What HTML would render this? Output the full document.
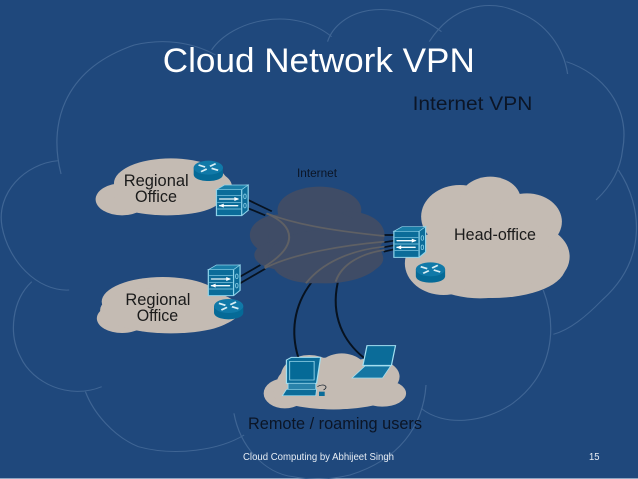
<!DOCTYPE html>
<html><head><meta charset="utf-8"><style>
html,body{margin:0;padding:0;background:#1f487c;width:638px;height:479px;overflow:hidden}
svg{display:block;position:absolute;left:0;top:0}
text{font-family:"Liberation Sans",sans-serif}
</style></head><body>
<svg width="638" height="479" viewBox="0 0 1568 1437" preserveAspectRatio="none" xmlns="http://www.w3.org/2000/svg">
<defs>
<g id="router">
<path d="M-36 0V20C-36 32 -20 40 0 40S36 32 36 20V0Z" fill="#056a97"/>
<ellipse cx="0" cy="0" rx="36" ry="21" fill="#1079a8"/>
<g stroke="#d8eef5" stroke-width="5" fill="none">
<path d="M-24 -8L-8 -2M24 8L8 2M-18 12L-4 4M18 -12L4 -4"/>
</g>
</g>
<g id="fw">
<path d="M12 12L78 0V76L62 92H0V14Z" fill="#0b6c99" stroke="#8fd3ea" stroke-width="3"/>
<path d="M0 14L20 0H78L62 14Z" fill="#1a7ea8" stroke="#8fd3ea" stroke-width="2"/>
<path d="M62 14V92" stroke="#8fd3ea" stroke-width="3"/>
<path d="M2 32H60M2 52H60M2 72H60" stroke="#8fd3ea" stroke-width="2"/>
<path d="M8 42H52M8 62H52" stroke="#eef8fb" stroke-width="4" stroke-linecap="round"/>
<path d="M56 42L44 36V48ZM6 62L18 56V68Z" fill="#fff"/>
<ellipse cx="70" cy="34" rx="3" ry="7" fill="none" stroke="#8fd3ea" stroke-width="2"/>
<ellipse cx="70" cy="62" rx="3" ry="7" fill="none" stroke="#8fd3ea" stroke-width="2"/>
</g>
</defs>

<rect width="1568" height="1437" fill="#1f487c"/>
<rect y="1434" width="1568" height="3" fill="#8fa6c2"/>

<g fill="none" stroke="#3f6594" stroke-width="3">
<path d="M150 522C120 380 150 210 330 135C400 115 470 125 530 165"/>
<path d="M520 150C570 60 720 15 815 110"/>
<path d="M805 125C830 30 960 -20 1085 95"/>
<path d="M1055 125C1110 20 1200 -10 1280 40C1340 70 1385 140 1395 222"/>
<path d="M1392 185C1480 220 1550 320 1530 450C1525 510 1500 560 1465 600"/>
<path d="M1520 510C1580 620 1590 780 1480 900C1440 950 1400 990 1360 1003"/>
<path d="M1335 870C1370 980 1360 1120 1260 1210C1190 1270 1090 1280 1035 1225"/>
<path d="M1047 1155C1040 1280 980 1380 860 1425C810 1440 760 1440 720 1430C650 1420 590 1340 575 1240"/>
<path d="M600 1305C540 1350 430 1370 340 1340C280 1310 230 1240 210 1175"/>
<path d="M250 1160C170 1200 80 1150 50 1070C20 1000 30 900 78 845"/>
<path d="M170 870C90 875 20 780 5 680C-10 580 60 490 145 482"/>
</g>

<g fill="#c4bbb3">
<ellipse cx="300" cy="598" rx="65" ry="48"/>
<ellipse cx="420" cy="550" rx="140" ry="75"/>
<ellipse cx="410" cy="600" rx="130" ry="46"/>
<ellipse cx="500" cy="560" rx="70" ry="50"/>
<ellipse cx="300" cy="955" rx="62" ry="44"/>
<ellipse cx="400" cy="905" rx="150" ry="74"/>
<ellipse cx="420" cy="950" rx="150" ry="50"/>
<ellipse cx="418" cy="930" rx="172" ry="69"/>
<ellipse cx="1130" cy="650" rx="95" ry="95"/>
<ellipse cx="1205" cy="600" rx="75" ry="70"/>
<ellipse cx="1295" cy="665" rx="86" ry="85"/>
<ellipse cx="1300" cy="770" rx="100" ry="95"/>
<ellipse cx="1210" cy="800" rx="180" ry="94"/>
<ellipse cx="1180" cy="780" rx="160" ry="115"/>
<ellipse cx="1090" cy="790" rx="95" ry="95"/>
<ellipse cx="700" cy="1180" rx="52" ry="45"/>
<ellipse cx="760" cy="1130" rx="70" ry="65"/>
<ellipse cx="840" cy="1135" rx="70" ry="75"/>
<ellipse cx="910" cy="1130" rx="72" ry="55"/>
<ellipse cx="940" cy="1180" rx="58" ry="40"/>
<ellipse cx="820" cy="1180" rx="150" ry="48"/>
<ellipse cx="820" cy="1150" rx="140" ry="78"/>
</g>

<g fill="none" stroke="#07121f" stroke-width="5">
<path d="M610 600L668 634M610 625L652 646"/>
<path d="M590 830L640 795M590 850L652 806"/>
<path d="M943 705H968M943 727L968 722M943 742L968 736M943 755L968 748"/>
<path d="M765 848C720 920 715 1000 733 1072"/>
<path d="M830 848C812 950 845 1025 895 1074"/>
</g>

<g fill="#3f4c66">
<ellipse cx="785" cy="630" rx="103" ry="70"/>
<ellipse cx="690" cy="705" rx="76" ry="62"/>
<ellipse cx="860" cy="705" rx="85" ry="70"/>
<ellipse cx="700" cy="765" rx="75" ry="45"/>
<ellipse cx="770" cy="790" rx="100" ry="60"/>
<ellipse cx="870" cy="775" rx="72" ry="48"/>
<ellipse cx="780" cy="710" rx="120" ry="80"/>
<ellipse cx="800" cy="770" rx="140" ry="80"/>
</g>
<g fill="none" stroke="#5f6064" stroke-width="5">
<path d="M655 640C720 670 800 690 945 708"/>
<path d="M655 640C730 680 730 740 650 800"/>
<path d="M650 805C720 760 850 735 945 725"/>
<path d="M752 850C790 790 860 750 945 740"/>
<path d="M825 845C840 790 890 760 945 750"/>
</g>

<use href="#router" x="512" y="503"/>
<use href="#router" x="1058" y="808"/>
<use href="#router" x="562" y="918"/>
<use href="#fw" x="532" y="555"/>
<use href="#fw" x="512" y="795"/>
<use href="#fw" x="968" y="680"/>

<path d="M704 1080L716 1072H788L778 1150H704Z" fill="#0b6c99" stroke="#a3e0f2" stroke-width="3"/>
<rect x="712" y="1084" width="60" height="56" fill="#056a97" stroke="#a3e0f2" stroke-width="2"/>
<path d="M708 1150H776V1168H708Z" fill="#2a82aa" stroke="#a3e0f2" stroke-width="2"/>
<path d="M704 1168H778L776 1187H694Z" fill="#0b6c99" stroke="#a3e0f2" stroke-width="2"/>
<path d="M784 1175H798V1188H784Z" fill="#0b6c99"/>
<path d="M780 1160C795 1148 810 1160 795 1170" fill="none" stroke="#1b2530" stroke-width="2"/>

<path d="M902 1037H972L962 1096H892Z" fill="#0b6c99" stroke="#a3e0f2" stroke-width="3"/>
<path d="M897 1098H960L940 1134H865Z" fill="#1576a3" stroke="#a3e0f2" stroke-width="2"/>
</svg>
<svg width="638" height="479" viewBox="0 0 638 479" xmlns="http://www.w3.org/2000/svg">
<text x="162.8" y="72" font-size="34" fill="#fff" textLength="312" lengthAdjust="spacingAndGlyphs">Cloud Network VPN</text>
<text x="412.6" y="110" font-size="19" fill="#0b1526" textLength="119.7" lengthAdjust="spacingAndGlyphs">Internet VPN</text>
<text x="297" y="177" font-size="11.5" fill="#0b1526" textLength="40" lengthAdjust="spacingAndGlyphs">Internet</text>
<text x="123.7" y="186" font-size="16.5" fill="#1b1b1b" textLength="65" lengthAdjust="spacingAndGlyphs">Regional</text>
<text x="135" y="202" font-size="16.5" fill="#1b1b1b" textLength="42" lengthAdjust="spacingAndGlyphs">Office</text>
<text x="125.4" y="305" font-size="16.5" fill="#1b1b1b" textLength="65" lengthAdjust="spacingAndGlyphs">Regional</text>
<text x="136.7" y="321" font-size="16.5" fill="#1b1b1b" textLength="41.5" lengthAdjust="spacingAndGlyphs">Office</text>
<text x="454" y="240" font-size="16.5" fill="#1b1b1b" textLength="82" lengthAdjust="spacingAndGlyphs">Head-office</text>
<text x="248" y="429" font-size="16.5" fill="#0b1526" textLength="174" lengthAdjust="spacingAndGlyphs">Remote / roaming users</text>
<text x="243" y="460" font-size="10" fill="#e8eef5" textLength="151" lengthAdjust="spacingAndGlyphs">Cloud Computing by Abhijeet Singh</text>
<text x="589" y="460" font-size="10" fill="#e8eef5" textLength="10.5" lengthAdjust="spacingAndGlyphs">15</text>
</svg>
</body></html>
